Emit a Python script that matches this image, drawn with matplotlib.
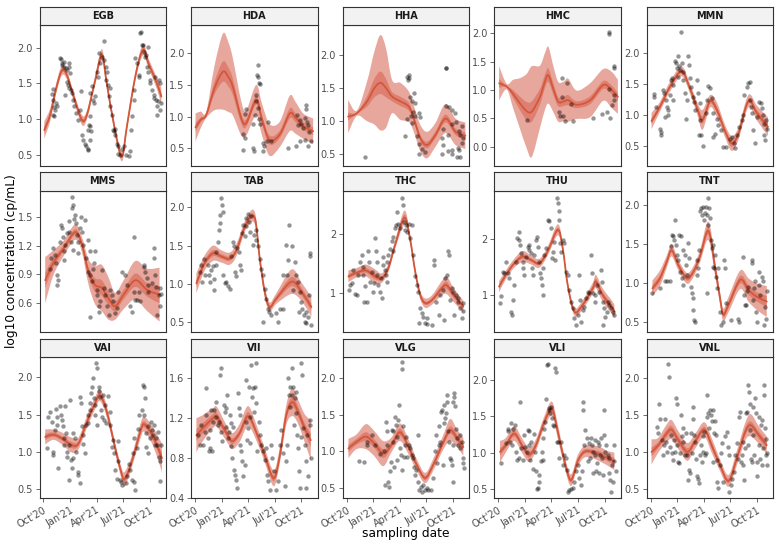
import matplotlib
matplotlib.use("Agg")
import matplotlib.pyplot as plt
from matplotlib.path import Path
from matplotlib.patches import PathPatch
import numpy as np

# ---------------- data ----------------
PANELS = ["EGB", "HDA", "HHA", "HMC", "MMN",
          "MMS", "TAB", "THC", "THU", "TNT",
          "VAI", "VII", "VLG", "VLI", "VNL"]

# x = days since 2020-10-01
TICK_DAYS = [0, 92, 182, 273, 365]
TICK_LABELS = ["Oct'20", "Jan'21", "Apr'21", "Jul'21", "Oct'21"]

# ---- EGB ----
EGB_pts = [(29,1.35),(34,1.42),(32,1.27),(37,1.17),(40,1.13),(43,1.22),(48,1.18),(34,1.06),(37,1.04),
 (57,1.86),(61,1.84),(64,1.78),(62,1.76),(69,1.80),(72,1.73),(76,1.71),(80,1.69),(86,1.78),(89,1.73),(92,1.64),
 (74,1.34),(80,1.52),(84,1.48),(88,1.43),(94,1.41),(97,1.36),(101,1.27),(105,1.18),(112,1.08),(120,0.99),(129,1.39),
 (124,1.13),(132,0.78),(137,0.71),(143,0.66),(146,0.62),(151,0.59),(154,0.57),(158,0.71),(151,0.85),(156,0.92),
 (160,0.90),(162,0.83),(160,1.36),(166,1.46),(169,1.27),(174,1.22),(177,1.32),(158,1.04),(183,1.66),(186,1.59),
 (189,1.92),(194,1.78),(200,1.87),(206,1.83),(209,2.10),(213,1.73),(217,1.66),(215,1.55),(220,1.48),(223,1.32),
 (227,1.18),(229,1.43),(235,1.06),(238,0.85),(243,0.83),(246,0.78),(252,0.66),(254,0.62),(257,0.52),(263,0.50),
 (269,0.59),(275,0.62),(284,0.50),(292,0.48),(295,0.55),(246,0.87),(301,0.85),(304,1.04),(309,1.27),(311,1.41),
 (315,1.85),(320,1.78),(326,1.62),(329,1.59),(332,2.20),(334,2.22),(337,2.04),(341,2.04),(343,1.94),(349,1.87),
 (352,1.90),(357,2.01),(355,1.73),(360,1.66),(364,1.55),(366,1.50),(372,1.41),(378,1.34),(380,1.29),(383,1.59),
 (387,1.27),(389,1.18),(392,1.25),(395,1.55),(398,1.50),(400,1.13),(404,1.22),(389,1.06)]
EGB_fit_day = [3,23,45,63,80,105,132,149,175,200,217,245,269,286,315,341,360,389,404]
EGB_fit_mid = [0.85,1.06,1.45,1.68,1.62,1.30,0.99,1.06,1.50,1.90,1.50,0.85,0.48,0.90,1.60,1.97,1.78,1.50,1.32]
EGB_fit_w95 = [0.12,0.09,0.07,0.07,0.06,0.06,0.07,0.06,0.06,0.08,0.06,0.06,0.07,0.06,0.06,0.08,0.07,0.08,0.12]
EGB_fit_w50 = [0.05,0.03,0.03,0.03,0.02,0.02,0.03,0.02,0.02,0.03,0.02,0.02,0.03,0.02,0.02,0.03,0.03,0.03,0.05]

# ---- HDA ----
HDA_pts = [(216,1.81),(214,1.66),(216,1.63),(219,1.53),(222,1.51),(210,1.34),(208,1.25),(174,1.12),(170,1.04),
 (216,1.13),(219,0.97),(224,0.89),(250,0.92),(207,1.03),(199,0.89),(165,0.72),(170,0.67),(163,0.47),(199,0.50),
 (201,0.46),(233,0.59),(236,0.53),(233,0.46),(247,0.62),(260,0.62),(319,0.51),(348,0.53),(359,0.61),(376,0.63),
 (388,0.53),(399,0.61),(380,1.19),(380,1.12),(350,1.02),(359,0.95),(376,0.98),(383,0.92),(365,0.89),(354,0.87),
 (388,0.87),(371,0.82),(391,0.76)]
HDA_fit_day = [2,20,39,67,96,115,130,159,176,210,230,256,291,325,345,371,405]
HDA_fit_mid = [0.83,0.95,1.03,1.45,1.71,1.62,1.47,0.97,0.90,1.26,0.95,0.63,0.72,1.05,0.98,0.85,0.77]
HDA_fit_w95 = [0.22,0.13,0.05,0.35,0.60,0.55,0.45,0.27,0.20,0.24,0.25,0.25,0.20,0.28,0.25,0.20,0.20]
HDA_fit_w50 = [0.07,0.04,0.02,0.10,0.16,0.15,0.13,0.08,0.06,0.07,0.07,0.07,0.06,0.08,0.07,0.06,0.06]

# ---- HHA ----
HHA_pts = [(64,0.46),(207,1.67),(213,1.70),(209,1.62),(215,1.65),(230,1.42),(218,1.37),(224,1.30),(233,1.27),
 (228,1.14),(221,1.08),(233,1.08),(207,1.04),(247,1.13),(251,1.07),(224,0.97),(201,0.77),(241,0.77),(247,0.65),
 (259,0.58),(249,0.51),(268,0.53),(339,1.81),(341,1.80),(341,1.23),(352,1.22),(361,1.17),(371,1.12),(375,0.99),
 (361,0.95),(329,0.88),(348,0.79),(384,0.85),(390,0.79),(396,0.67),(382,0.60),(327,0.74),(330,0.64),(348,0.55),
 (361,0.57),(361,0.50),(379,0.46),(390,0.46),(384,0.56),(327,0.51),(396,0.92),(398,0.74)]
HHA_fit_day = [5,35,70,95,116,135,156,184,213,230,253,276,304,339,373,407]
HHA_fit_mid = [1.07,1.12,1.30,1.50,1.58,1.50,1.37,1.30,1.22,1.04,0.74,0.64,0.79,1.04,0.84,0.78]
HHA_fit_w95 = [0.25,0.04,0.30,0.55,0.72,0.60,0.25,0.28,0.23,0.20,0.20,0.20,0.18,0.22,0.20,0.20]
HHA_fit_w50 = [0.06,0.01,0.08,0.14,0.17,0.14,0.07,0.07,0.06,0.05,0.05,0.05,0.05,0.06,0.05,0.05]

# ---- HMC ----
HMC_pts = [(97,0.47),(217,1.21),(217,0.88),(237,1.12),(209,0.61),(212,0.55),(221,0.55),(229,0.46),(257,0.46),
 (248,0.75),(326,0.51),(355,0.57),(374,0.61),(383,0.50),(378,2.02),(378,1.98),(395,1.43),(395,1.39),(381,1.02),
 (397,0.91),(397,0.82),(391,0.74)]
HMC_fit_day = [3,29,51,75,97,115,143,160,172,190,206,225,240,269,315,360,389,410]
HMC_fit_mid = [1.12,1.06,0.93,0.76,0.63,0.62,0.88,1.15,1.26,1.00,0.79,0.80,0.82,0.74,0.82,1.09,1.00,0.88]
HMC_fit_w95 = [0.30,0.05,0.25,0.45,0.65,0.80,0.55,0.50,0.50,0.40,0.35,0.35,0.38,0.25,0.30,0.28,0.32,0.30]
HMC_fit_w50 = [0.08,0.01,0.07,0.12,0.16,0.18,0.14,0.12,0.12,0.10,0.08,0.08,0.09,0.06,0.07,0.07,0.08,0.07]

# ---- MMN ----
MMN_pts = [(11,1.33),(11,1.29),(18,1.13),(34,0.73),(34,0.68),(32,0.78),(43,1.40),(47,1.35),(51,1.24),(55,1.13),
 (61,1.08),(49,0.97),(58,1.00),(66,1.32),(70,1.56),(72,1.60),(76,1.48),(78,1.24),(84,1.86),(87,1.83),(89,1.75),
 (95,1.94),(98,1.78),(101,1.72),(93,1.61),(104,2.34),(106,1.83),(110,1.69),(112,1.56),(118,1.35),(124,1.24),
 (121,0.94),(129,1.94),(133,1.80),(135,1.59),(137,1.45),(144,1.29),(149,1.21),(152,1.08),(158,1.56),(164,1.35),
 (169,1.19),(169,0.92),(167,0.68),(173,0.68),(181,0.50),(190,1.03),(192,1.24),(198,1.46),(204,1.44),(209,1.27),
 (213,1.03),(215,0.65),(221,0.70),(227,0.94),(232,0.84),(240,0.76),(249,0.49),(259,0.49),(272,0.62),(278,0.64),
 (284,0.54),(289,0.46),(295,0.68),(304,0.81),(312,0.92),(318,1.00),(320,1.32),(330,1.45),(335,1.52),(341,1.53),
 (339,1.24),(343,1.13),(347,1.03),(352,0.76),(358,0.54),(364,0.97),(373,1.21),(378,1.19),(381,1.11),(384,1.00),
 (387,0.86),(389,0.68),(392,0.60),(395,0.92),(398,0.78)]
MMN_fit_day = [3,32,66,106,135,160,178,204,227,255,278,301,335,364,402]
MMN_fit_mid = [0.90,1.13,1.45,1.70,1.42,1.10,0.92,1.22,1.08,0.74,0.54,0.70,1.22,1.03,0.81]
MMN_fit_w95 = [0.13,0.08,0.08,0.08,0.08,0.10,0.16,0.10,0.12,0.10,0.12,0.10,0.10,0.12,0.15]
MMN_fit_w50 = [0.05,0.03,0.03,0.03,0.03,0.04,0.06,0.04,0.05,0.04,0.05,0.04,0.04,0.05,0.06]

# ---- MMS ----
MMS_pts = [(21,0.96),(25,1.07),(34,1.17),(40,1.10),(43,1.02),(48,0.89),(51,0.84),(46,0.79),(57,1.24),(61,1.41),
 (63,1.38),(66,1.29),(69,1.14),(72,1.05),(74,1.21),(80,1.33),(86,1.45),(89,1.34),(94,1.24),(97,1.59),(101,1.15),
 (103,1.62),(105,1.48),(109,1.52),(112,1.43),(114,1.31),(117,1.24),(120,1.12),(124,1.38),(97,1.70),(128,1.50),
 (132,1.34),(137,1.21),(143,1.47),(146,1.07),(151,0.93),(154,1.26),(158,1.14),(160,0.89),(166,0.83),(169,0.96),
 (174,1.02),(177,1.14),(183,0.74),(185,0.69),(189,0.57),(192,0.51),(194,0.62),(200,0.95),(206,0.76),(212,0.69),
 (160,0.46),(217,0.57),(223,0.48),(229,0.74),(235,0.69),(240,0.62),(246,0.50),(252,0.55),(257,0.72),(269,0.93),
 (280,0.89),(286,0.79),(297,0.57),(303,0.51),(309,0.72),(312,1.29),(315,0.63),(320,0.63),(326,0.72),(332,0.62),
 (343,1.00),(346,0.98),(349,0.93),(355,0.86),(357,0.79),(360,0.72),(372,0.81),(378,1.17),(380,1.07),(383,0.89),
 (387,0.77),(389,0.48),(395,0.69),(400,0.76),(404,0.70),(398,0.57)]
MMS_fit_day = [6,34,69,109,132,154,177,200,223,246,275,315,355,398]
MMS_fit_mid = [0.84,1.02,1.17,1.34,1.21,0.93,0.79,0.76,0.65,0.57,0.69,0.84,0.74,0.69]
MMS_fit_w95 = [0.24,0.13,0.08,0.08,0.08,0.13,0.20,0.24,0.22,0.14,0.15,0.20,0.22,0.28]
MMS_fit_w50 = [0.08,0.05,0.03,0.03,0.03,0.05,0.07,0.08,0.07,0.05,0.05,0.07,0.07,0.09]

# ---- TAB ----
TAB_pts = [(16,1.16),(22,1.25),(25,1.03),(30,1.33),(33,1.12),(45,1.25),(48,1.12),(50,1.03),(56,1.18),(62,1.23),
 (67,0.92),(64,1.07),(71,1.25),(73,1.42),(79,1.55),(82,1.70),(85,1.79),(87,1.90),(90,2.12),(94,2.03),(96,1.94),
 (96,1.12),(102,1.01),(108,1.03),(113,0.97),(119,0.94),(125,1.36),(130,1.55),(133,1.49),(136,1.16),(140,1.10),
 (144,1.47),(151,1.42),(153,1.25),(159,1.18),(162,1.66),(165,1.77),(170,1.62),(174,1.86),(176,1.75),(182,1.91),
 (185,1.81),(190,1.68),(193,1.88),(199,1.51),(201,1.64),(208,1.70),(210,1.57),(216,1.49),(222,1.33),(228,1.20),
 (233,1.12),(239,0.94),(245,0.81),(251,0.68),(254,0.64),(262,0.60),(233,0.51),(279,0.62),(291,0.68),(302,0.68),
 (285,0.51),(302,1.12),(313,1.51),(319,1.31),(316,1.12),(322,1.77),(331,1.49),(336,0.92),(342,1.29),(348,1.12),
 (353,1.03),(357,0.64),(359,0.90),(365,0.77),(368,0.68),(373,0.60),(376,0.51),(382,0.64),(388,0.57),(391,0.86),
 (394,1.36),(396,1.41),(399,0.47),(380,0.49)]
TAB_fit_day = [5,33,62,90,119,142,176,205,222,239,256,279,331,365,399]
TAB_fit_mid = [1.01,1.27,1.40,1.36,1.33,1.44,1.79,1.86,1.33,0.90,0.70,0.81,1.03,0.90,0.70]
TAB_fit_w95 = [0.13,0.10,0.10,0.08,0.08,0.08,0.07,0.08,0.07,0.07,0.06,0.07,0.16,0.12,0.13]
TAB_fit_w50 = [0.05,0.04,0.04,0.03,0.03,0.03,0.03,0.03,0.03,0.03,0.02,0.03,0.06,0.05,0.05]

# ---- THC ----
THC_pts = [(9,1.05),(11,1.13),(17,1.16),(23,1.39),(29,0.99),(34,0.97),(40,1.30),(46,1.53),(51,1.64),(55,1.44),
 (57,1.30),(59,0.85),(63,1.11),(69,0.85),(74,1.70),(78,1.53),(80,1.19),(86,1.36),(89,1.02),(94,1.16),(97,1.93),
 (101,1.70),(103,1.53),(105,1.30),(109,1.13),(114,1.02),(117,1.25),(120,0.91),(124,1.61),(126,1.47),(132,1.39),
 (135,1.30),(137,1.19),(140,1.53),(143,1.64),(149,1.75),(154,1.87),(158,1.70),(160,1.95),(166,2.09),(169,2.15),
 (174,2.37),(177,2.17),(183,2.09),(189,2.60),(192,2.48),(197,2.20),(200,2.06),(204,2.15),(208,2.03),(212,2.17),
 (217,1.92),(223,2.15),(229,1.64),(235,1.28),(240,1.13),(246,1.02),(252,0.74),(257,0.66),(263,0.60),(269,0.49),
 (275,0.57),(249,0.49),(277,0.47),(292,0.46),(300,1.56),(300,1.47),(307,0.85),(315,0.63),(320,0.97),(330,1.05),
 (337,1.25),(343,1.30),(349,1.70),(352,1.64),(355,0.88),(360,1.08),(366,1.02),(369,0.63),(375,0.97),(380,0.91),
 (383,0.85),(389,0.74),(395,0.57),(398,0.83),(400,0.69),(332,0.54)]
THC_fit_day = [6,34,66,97,120,143,166,198,217,235,252,269,292,326,343,366,400]
THC_fit_mid = [1.28,1.34,1.38,1.28,1.25,1.42,1.81,2.27,1.92,1.36,0.97,0.83,0.88,1.08,1.13,0.97,0.77]
THC_fit_w95 = [0.10,0.08,0.10,0.12,0.08,0.07,0.07,0.12,0.08,0.07,0.07,0.08,0.08,0.12,0.15,0.12,0.10]
THC_fit_w50 = [0.04,0.03,0.04,0.05,0.03,0.03,0.03,0.05,0.03,0.03,0.03,0.03,0.03,0.05,0.06,0.05,0.04]

# ---- THU ----
THU_pts = [(6,0.85),(9,0.99),(15,1.42),(21,1.39),(26,1.60),(32,1.39),(38,1.30),(44,0.70),(47,0.64),(51,0.91),
 (55,1.18),(61,1.60),(66,2.02),(70,1.99),(72,2.14),(76,1.90),(78,1.75),(84,1.60),(86,1.48),(89,1.36),(95,1.69),
 (101,1.87),(104,1.90),(106,1.81),(112,1.75),(116,1.48),(120,1.36),(124,1.72),(129,1.99),(132,2.05),(135,1.87),
 (141,1.60),(143,1.39),(146,1.30),(150,1.18),(152,1.00),(154,1.48),(158,1.72),(164,1.84),(169,2.35),(175,2.32),
 (181,2.20),(184,1.66),(189,1.78),(192,1.96),(196,1.63),(200,2.74),(204,2.65),(207,2.50),(209,2.35),(212,1.93),
 (215,1.78),(221,1.99),(227,1.93),(232,1.42),(238,1.36),(244,1.09),(249,0.88),(255,0.76),(261,0.58),(267,0.46),
 (272,0.64),(276,1.36),(280,0.91),(284,0.52),(289,0.73),(295,0.79),(301,0.94),(307,1.06),(312,1.03),(318,1.72),
 (321,1.39),(324,1.03),(330,1.00),(333,0.88),(338,1.18),(345,1.06),(352,1.45),(356,1.24),(360,0.88),(364,0.76),
 (367,0.61),(372,0.70),(375,0.88),(381,0.82),(387,0.76),(392,0.70),(396,0.64),(360,0.46)]
THU_fit_day = [3,26,55,84,112,141,169,204,221,238,261,289,324,335,358,392,398]
THU_fit_mid = [1.15,1.36,1.57,1.69,1.63,1.57,1.78,2.17,1.84,1.18,0.70,0.82,1.12,1.24,1.00,0.76,0.70]
THU_fit_w95 = [0.10,0.08,0.08,0.10,0.08,0.08,0.08,0.10,0.08,0.07,0.07,0.08,0.10,0.12,0.12,0.12,0.12]
THU_fit_w50 = [0.04,0.03,0.03,0.04,0.03,0.03,0.03,0.04,0.03,0.03,0.03,0.03,0.04,0.05,0.05,0.05,0.05]

# ---- TNT ----
TNT_pts = [(3,0.87),(32,0.93),(49,1.02),(55,1.02),(66,1.02),(69,1.47),(72,1.62),(76,1.60),(80,1.55),(84,1.81),
 (87,1.49),(92,1.36),(95,1.30),(98,1.62),(103,1.60),(101,1.14),(106,1.06),(110,0.97),(112,1.42),(118,1.36),
 (121,1.23),(126,1.10),(129,1.51),(133,1.32),(137,0.95),(141,0.87),(144,0.80),(146,0.65),(150,0.52),(152,0.50),
 (158,1.10),(160,1.30),(164,1.19),(167,1.42),(169,1.92),(173,1.96),(175,1.88),(181,1.98),(183,1.81),(186,1.90),
 (190,1.98),(192,1.88),(196,1.75),(198,2.09),(201,1.96),(204,1.83),(194,0.87),(206,1.55),(209,1.45),(213,1.49),
 (215,1.21),(217,1.19),(221,1.36),(224,1.08),(227,0.93),(230,1.19),(238,0.63),(241,0.46),(247,0.50),(252,1.30),
 (255,1.19),(259,0.74),(275,0.52),(301,0.54),(304,0.50),(316,1.34),(320,0.84),(324,0.72),(327,0.71),(329,0.89),
 (335,0.95),(347,1.30),(349,1.25),(352,0.78),(355,0.93),(358,1.02),(362,0.63),(364,0.50),(370,1.14),(373,0.97),
 (375,0.84),(381,1.08),(384,1.02),(387,0.46),(392,0.69),(396,0.54),(398,0.89)]
TNT_fit_day = [6,32,55,72,95,124,146,169,198,221,238,249,267,307,335,364,398]
TNT_fit_mid = [0.93,1.06,1.27,1.42,1.23,1.06,1.14,1.34,1.67,1.19,0.80,0.59,0.72,1.04,0.91,0.82,0.76]
TNT_fit_w95 = [0.10,0.10,0.08,0.08,0.07,0.07,0.07,0.08,0.12,0.10,0.08,0.08,0.10,0.12,0.15,0.17,0.20]
TNT_fit_w50 = [0.04,0.04,0.03,0.03,0.03,0.03,0.03,0.03,0.05,0.04,0.03,0.03,0.04,0.05,0.06,0.06,0.07]

# ---- VAI ----
VAI_pts = [(11,1.05),(17,1.47),(23,1.54),(29,1.40),(34,1.00),(34,0.96),(40,1.29),(43,1.58),(46,1.47),(48,1.36),
 (51,0.78),(57,1.61),(60,1.49),(63,1.43),(66,1.34),(69,1.18),(71,1.09),(74,1.61),(78,1.25),(80,1.00),(82,0.93),
 (86,0.62),(89,1.09),(92,1.70),(94,0.89),(97,0.78),(101,1.25),(103,0.91),(109,1.18),(112,1.00),(117,0.73),
 (120,0.69),(124,0.58),(126,1.74),(128,1.65),(132,1.34),(135,1.23),(137,1.11),(143,0.98),(146,1.36),(151,1.38),
 (154,1.49),(158,1.56),(160,1.65),(162,1.79),(166,1.87),(169,1.99),(172,1.72),(175,1.63),(177,1.49),(181,2.19),
 (183,2.12),(185,1.36),(189,1.87),(192,1.81),(194,1.74),(197,1.56),(200,1.47),(204,1.76),(206,1.43),(212,1.63),
 (215,1.38),(220,1.75),(227,1.54),(229,1.36),(235,1.07),(238,1.16),(243,0.98),(246,0.76),(252,0.64),(254,1.14),
 (257,0.87),(261,0.62),(265,0.60),(269,0.55),(284,0.58),(288,0.67),(292,0.84),(297,0.76),(303,0.62),(309,0.60),
 (315,0.49),(309,1.18),(307,0.98),(320,1.05),(323,1.31),(329,1.49),(337,1.56),(341,1.90),(343,1.87),(347,1.72),
 (346,1.49),(350,1.25),(352,1.07),(357,0.98),(360,1.34),(364,1.18),(368,1.40),(372,1.29),(375,1.23),(380,1.36),
 (383,1.09),(387,1.18),(389,1.09),(391,1.27),(395,0.93),(398,0.61),(400,0.87),(403,1.09)]
VAI_fit_day = [6,34,63,97,120,149,177,194,217,246,269,280,303,332,345,372,398,406]
VAI_fit_mid = [1.20,1.23,1.18,1.09,1.11,1.40,1.65,1.76,1.54,1.05,0.69,0.64,0.87,1.27,1.37,1.23,1.00,0.91]
VAI_fit_w95 = [0.10,0.07,0.08,0.10,0.08,0.08,0.08,0.08,0.08,0.07,0.08,0.10,0.08,0.10,0.10,0.12,0.17,0.20]
VAI_fit_w50 = [0.04,0.03,0.03,0.04,0.03,0.03,0.03,0.03,0.03,0.03,0.03,0.04,0.03,0.04,0.04,0.05,0.06,0.07]

# ---- VII ----
VII_pts = [(10,1.03),(16,0.93),(22,1.13),(27,0.93),(33,1.06),(37,1.23),(39,1.50),(45,1.00),(48,0.87),(50,0.90),
 (53,1.08),(56,1.28),(59,0.87),(62,1.16),(67,1.28),(71,1.36),(73,1.21),(79,1.13),(82,1.16),(87,1.63),(90,1.70),
 (90,1.06),(94,0.97),(98,1.33),(102,1.26),(105,1.30),(108,1.11),(111,1.43),(113,1.00),(117,1.06),(119,1.23),
 (122,1.15),(125,0.92),(128,0.80),(130,1.11),(133,0.68),(136,0.63),(140,0.58),(144,0.50),(148,1.45),(151,1.30),
 (153,1.23),(156,0.93),(159,0.87),(162,0.77),(165,0.62),(170,0.73),(174,1.58),(176,1.16),(178,0.98),(182,1.10),
 (185,1.51),(188,1.21),(190,0.95),(193,1.73),(197,1.41),(199,1.50),(201,1.26),(205,1.51),(208,1.35),(210,1.75),
 (213,0.87),(220,1.16),(224,1.03),(228,0.93),(233,0.87),(239,0.78),(245,0.90),(248,0.63),(252,0.57),(256,0.48),
 (259,0.93),(265,0.80),(270,0.67),(279,0.48),(285,0.57),(291,0.93),(296,1.08),(302,0.85),(308,0.52),(311,0.77),
 (316,0.93),(319,1.60),(323,1.43),(325,1.31),(327,1.51),(331,1.70),(334,1.43),(336,1.51),(340,1.13),(342,1.40),
 (345,1.46),(348,1.25),(350,1.03),(354,0.90),(357,0.67),(359,0.50),(362,1.01),(365,1.75),(368,1.63),(371,1.10),
 (376,0.93),(380,0.50),(382,0.77),(388,0.62),(394,1.18),(396,1.13),(399,0.80),(384,1.03)]
VII_fit_day = [5,27,62,76,108,128,153,182,210,239,270,291,313,334,354,376,397]
VII_fit_mid = [1.03,1.10,1.20,1.21,1.05,0.97,1.05,1.22,1.06,0.83,0.60,0.83,1.23,1.36,1.26,1.10,0.98]
VII_fit_w95 = [0.17,0.13,0.10,0.10,0.08,0.08,0.09,0.10,0.08,0.07,0.08,0.08,0.10,0.14,0.12,0.14,0.20]
VII_fit_w50 = [0.06,0.05,0.04,0.04,0.03,0.03,0.03,0.04,0.03,0.03,0.03,0.03,0.04,0.05,0.05,0.05,0.07]

# ---- VLG ----
VLG_pts = [(43,0.87),(59,0.85),(69,1.09),(71,1.13),(86,1.22),(97,1.09),(114,0.97),(128,1.00),(132,0.55),(135,1.40),
 (137,1.27),(140,1.09),(143,0.59),(146,0.52),(149,0.73),(151,0.86),(154,1.29),(158,1.13),(160,1.27),(162,0.79),
 (166,1.47),(169,1.36),(172,0.88),(174,1.20),(177,1.43),(181,1.63),(183,1.04),(185,0.95),(189,0.75),(191,2.21),
 (191,2.12),(194,1.34),(197,0.93),(200,1.09),(204,1.20),(206,0.93),(212,1.09),(217,1.04),(223,0.95),(229,0.91),
 (231,0.79),(235,0.68),(238,0.75),(243,1.22),(246,0.59),(249,0.48),(254,0.52),(257,0.45),(263,0.54),(269,0.48),
 (275,0.51),(280,0.48),(288,0.48),(297,0.64),(303,1.00),(307,1.22),(309,0.84),(315,1.09),(320,1.13),(315,1.34),
 (324,1.54),(326,1.56),(330,0.82),(332,1.63),(334,1.38),(337,1.45),(341,1.52),(343,1.77),(345,1.67),(349,1.27),
 (352,1.13),(355,0.91),(357,0.88),(360,0.82),(364,0.59),(366,1.09),(368,1.79),(372,1.61),(375,1.31),(378,1.18),
 (383,1.09),(387,1.22),(389,1.04),(395,1.13),(398,0.91),(403,0.77),(400,0.84),(366,1.67),(368,1.74)]
VLG_fit_day = [6,34,66,94,126,154,183,212,240,269,297,332,355,378,400]
VLG_fit_mid = [1.04,1.13,1.20,1.11,0.97,1.09,1.26,1.06,0.82,0.64,0.82,1.13,1.29,1.18,1.06]
VLG_fit_w95 = [0.13,0.10,0.17,0.17,0.17,0.10,0.12,0.10,0.08,0.07,0.08,0.10,0.15,0.12,0.12]
VLG_fit_w50 = [0.05,0.04,0.06,0.06,0.06,0.04,0.05,0.04,0.03,0.03,0.03,0.04,0.05,0.05,0.05]

# ---- VLI ----
VLI_pts = [(9,0.85),(26,1.13),(32,1.29),(35,1.33),(40,1.15),(43,1.40),(47,1.10),(51,1.33),(58,1.38),(61,1.01),
 (66,0.90),(70,0.92),(74,1.70),(78,1.06),(84,0.90),(89,1.24),(93,1.08),(97,1.01),(101,1.31),(104,1.29),(106,1.10),
 (109,0.90),(112,1.15),(118,0.78),(124,1.26),(127,1.01),(129,0.74),(132,0.50),(135,0.52),(138,0.69),(141,0.60),
 (146,0.88),(150,1.01),(152,0.90),(154,1.20),(158,1.33),(161,1.42),(164,1.74),(166,2.20),(169,2.21),(173,1.58),
 (175,1.61),(177,1.54),(181,1.63),(184,1.47),(186,1.38),(192,1.36),(196,2.16),(198,2.11),(200,1.15),(204,1.15),
 (209,0.92),(215,1.15),(221,0.83),(227,0.97),(232,0.92),(236,0.76),(238,0.46),(244,0.49),(249,0.50),(255,0.51),
 (261,0.60),(267,0.74),(272,0.83),(278,0.65),(284,0.56),(287,0.74),(289,1.70),(292,1.58),(295,1.10),(299,1.31),
 (303,1.20),(307,0.88),(310,1.13),(315,0.92),(318,1.20),(321,1.10),(324,1.01),(326,0.72),(330,0.97),(333,1.17),
 (335,0.74),(337,0.85),(341,1.15),(344,1.10),(347,0.72),(349,0.97),(352,1.20),(356,0.92),(358,0.69),(362,1.58),
 (364,1.24),(367,1.01),(370,1.10),(375,0.97),(379,0.72),(381,0.92),(384,0.62),(387,0.46),(390,0.83),(392,0.60),
 (395,1.10),(398,0.88),(402,0.74)]
VLI_fit_day = [6,26,55,84,106,129,158,184,204,227,249,272,295,324,352,375,398]
VLI_fit_mid = [1.01,1.10,1.26,1.08,0.97,1.10,1.42,1.60,1.29,0.88,0.62,0.88,1.01,1.01,0.97,0.92,0.88]
VLI_fit_w95 = [0.15,0.10,0.10,0.10,0.10,0.08,0.08,0.10,0.10,0.08,0.08,0.08,0.08,0.09,0.10,0.10,0.12]
VLI_fit_w50 = [0.05,0.04,0.04,0.04,0.04,0.03,0.03,0.04,0.04,0.03,0.03,0.03,0.03,0.03,0.04,0.04,0.05]

# ---- VNL ----
VNL_pts = [(23,1.34),(26,1.25),(30,1.65),(32,1.45),(38,1.16),(41,0.96),(46,1.09),(49,1.45),(53,1.14),(55,1.00),
 (61,2.19),(63,2.01),(66,1.07),(69,1.23),(72,0.98),(76,0.89),(80,1.16),(84,1.00),(87,1.72),(89,1.65),(92,1.09),
 (95,0.87),(98,0.85),(101,0.98),(104,1.50),(106,1.21),(110,1.14),(112,1.32),(118,0.96),(121,1.25),(126,0.96),
 (129,0.62),(133,0.76),(135,0.71),(137,1.25),(141,0.98),(144,1.61),(146,1.45),(149,1.23),(152,1.14),(156,0.91),
 (158,0.67),(164,0.64),(167,0.58),(169,0.96),(173,1.09),(175,0.87),(178,1.21),(181,1.00),(183,1.27),(186,0.96),
 (190,0.98),(192,1.47),(194,1.77),(198,1.52),(201,1.32),(204,1.56),(206,1.50),(209,1.41),(213,1.56),(215,0.87),
 (217,1.25),(221,1.41),(224,1.23),(227,0.89),(229,0.60),(232,0.51),(236,0.82),(240,0.98),(244,1.12),(249,0.60),
 (255,1.21),(261,1.27),(264,1.07),(267,0.96),(270,0.46),(275,0.55),(278,0.64),(284,0.73),(289,0.96),(295,1.12),
 (301,0.91),(304,1.47),(307,1.54),(309,0.87),(312,0.96),(316,0.82),(318,1.14),(320,0.62),(324,1.05),(327,1.52),
 (330,1.54),(333,1.09),(335,1.90),(338,1.81),(339,1.65),(341,1.30),(343,0.91),(347,0.87),(350,1.61),(352,1.23),
 (355,0.96),(358,1.72),(362,1.52),(364,0.87),(366,0.67),(370,1.09),(373,1.47),(375,0.91),(378,1.36),(381,1.43),
 (384,1.05),(387,1.90),(389,1.77),(391,1.32),(394,1.18),(396,0.96),(398,0.82),(400,0.98),(381,0.82)]
VNL_fit_day = [3,26,55,72,95,126,152,184,209,238,267,295,324,343,370,398]
VNL_fit_mid = [1.00,1.09,1.25,1.30,1.16,1.00,1.14,1.30,1.09,0.82,0.61,0.91,1.27,1.36,1.23,1.09]
VNL_fit_w95 = [0.17,0.10,0.12,0.13,0.12,0.12,0.10,0.10,0.10,0.08,0.08,0.10,0.12,0.15,0.12,0.12]
VNL_fit_w50 = [0.06,0.04,0.05,0.05,0.05,0.05,0.04,0.04,0.04,0.03,0.03,0.04,0.05,0.05,0.05,0.05]

DATA = {name: dict(pts=globals()[name + "_pts"], day=globals()[name + "_fit_day"],
                   mid=globals()[name + "_fit_mid"], w95=globals()[name + "_fit_w95"],
                   w50=globals()[name + "_fit_w50"]) for name in PANELS}

# ---------------- layout / style ----------------
YLIM = {"EGB": (0.346, 2.317), "HDA": (0.22, 2.447), "HHA": (0.323, 2.453), "HMC": (-0.34, 2.147),
        "MMN": (0.178, 2.445), "MMS": (0.305, 1.77), "TAB": (0.378, 2.216), "THC": (0.347, 2.725),
        "THU": (0.341, 2.873), "TNT": (0.371, 2.188), "VAI": (0.375, 2.269), "VII": (0.40, 1.807),
        "VLG": (0.364, 2.276), "VLI": (0.372, 2.308), "VNL": (0.375, 2.275)}
YTICKS = {"HMC": [0.0, 0.5, 1.0, 1.5, 2.0], "MMS": [0.6, 0.9, 1.2, 1.5],
          "THC": [1, 2], "THU": [1, 2], "VII": [0.4, 0.8, 1.2, 1.6]}
YFMT = {"THC": "{:.0f}", "THU": "{:.0f}"}

W, H = 779, 546
COL_LEFT = [39.5, 191.0, 342.7, 494.3, 646.7]
PW = 126.5
ROW_TOP = [25.0, 190.7, 357.3]
PH = 141.0
STRIP_H = 18.5
XLIM = (-13.5, 420)

RIB = "#D6604D"
LINE = "#D4573A"
BORDER = "#333333"
TXT = "#4D4D4D"


def smooth_path(x, y):
    """Smooth (Catmull-Rom style) Bezier path through the knots, drawn with matplotlib Path."""
    P = np.column_stack([x, y])
    n = len(P)
    verts = [P[0]]
    codes = [Path.MOVETO]
    for i in range(n - 1):
        p0 = P[i - 1] if i > 0 else P[i]
        p1, p2 = P[i], P[i + 1]
        p3 = P[i + 2] if i + 2 < n else P[i + 1]
        verts += [p1 + (p2 - p0) / 6.0, p2 - (p3 - p1) / 6.0, p2]
        codes += [Path.CURVE4] * 3
    return verts, codes


def ribbon(ax, x, lo, hi, **kw):
    v1, c1 = smooth_path(x, hi)
    v2, c2 = smooth_path(x[::-1], lo[::-1])
    c2 = [Path.LINETO] + c2[1:]
    verts = v1 + v2 + [v1[0]]
    codes = c1 + c2 + [Path.CLOSEPOLY]
    ax.add_patch(PathPatch(Path(verts, codes), **kw))


fig = plt.figure(figsize=(W / 100, H / 100), dpi=100)

for i, name in enumerate(PANELS):
    r, c = divmod(i, 5)
    L = COL_LEFT[c]
    T = ROW_TOP[r]
    ax = fig.add_axes([L / W, 1 - (T + PH) / H, PW / W, PH / H])
    d = DATA[name]
    day = np.array(d["day"], float)
    mid = np.array(d["mid"], float)
    w95 = np.array(d["w95"], float)
    w50 = np.array(d["w50"], float)
    ribbon(ax, day, mid - w95, mid + w95, facecolor=RIB, alpha=0.55, lw=0, zorder=1)
    ribbon(ax, day, mid - w50, mid + w50, facecolor=RIB, alpha=0.55, lw=0, zorder=2)
    lv, lc = smooth_path(day, mid)
    ax.add_patch(PathPatch(Path(lv, lc), facecolor="none", edgecolor=LINE, lw=1.3, zorder=3,
                           capstyle="round", joinstyle="round"))
    pts = np.array(d["pts"], float)
    ax.scatter(pts[:, 0], pts[:, 1], s=10, color="black", alpha=0.42, lw=0, zorder=4)

    ax.set_xlim(*XLIM)
    ax.set_ylim(*YLIM[name])
    yt = YTICKS.get(name, [0.5, 1.0, 1.5, 2.0])
    fmt = YFMT.get(name, "{:.1f}")
    ax.set_yticks(yt)
    ax.set_yticklabels([fmt.format(v) for v in yt])
    ax.set_xticks(TICK_DAYS)
    if r == 2:
        ax.set_xticklabels(TICK_LABELS, rotation=30, ha="right", rotation_mode="anchor")
        ax.tick_params(axis="x", length=2.75, width=0.5, color=BORDER, labelsize=7, labelcolor=TXT, pad=2)
    else:
        ax.tick_params(axis="x", length=0, labelbottom=False)
    ax.tick_params(axis="y", length=2.75, width=0.5, color=BORDER, labelsize=7, labelcolor=TXT, pad=2)
    for sp in ax.spines.values():
        sp.set_color(BORDER)
        sp.set_linewidth(0.8)

    # strip
    sax = fig.add_axes([L / W, 1 - T / H, PW / W, STRIP_H / H])
    sax.set_facecolor("#F2F2F2")
    sax.set_xticks([]); sax.set_yticks([])
    for sp in sax.spines.values():
        sp.set_color(BORDER)
        sp.set_linewidth(0.8)
    sax.text(0.5, 0.5, name, ha="center", va="center", fontsize=7, fontweight="bold", color="#1A1A1A",
             transform=sax.transAxes)

fig.text(12 / W, 1 - 261 / H, "log10 concentration (cp/mL)", rotation=90, ha="center", va="center",
         fontsize=8.8, color="black")
fig.text(406 / W, 1 - 534 / H, "sampling date", ha="center", va="center", fontsize=8.8, color="black")

fig.savefig("out.png", dpi=100)
